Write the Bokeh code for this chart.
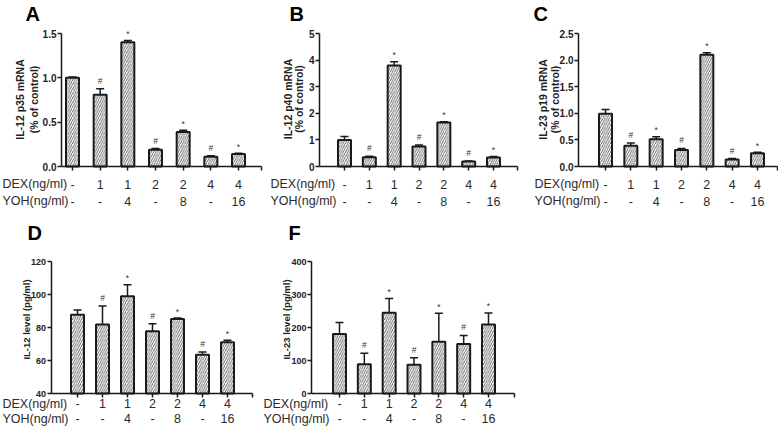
import math
from bokeh.plotting import figure
from bokeh.models import (Range1d, FixedTicker, NumeralTickFormatter, Whisker, TeeHead,
                          ColumnDataSource)
from bokeh.layouts import row, column
from bokeh.embed import file_html
from bokeh.resources import INLINE
from bokeh.core.properties import value

# ---------------- data ----------------
groups = [1, 2, 3, 4, 5, 6, 7]
dex_labels = ["-", "1", "1", "2", "2", "4", "4"]
yoh_labels = ["-", "-", "4", "-", "8", "-", "16"]
sig_marks = ["", "#", "*", "#", "*", "#", "*"]

a_mean = [1.00, 0.81, 1.40, 0.19, 0.39, 0.11, 0.14]
a_err = [0.01, 0.066, 0.02, 0.012, 0.02, 0.01, 0.01]
b_mean = [1.00, 0.35, 3.80, 0.75, 1.65, 0.19, 0.34]
b_err = [0.13, 0.04, 0.14, 0.06, 0.03, 0.02, 0.04]
c_mean = [0.99, 0.39, 0.51, 0.31, 2.10, 0.13, 0.25]
c_err = [0.08, 0.05, 0.05, 0.03, 0.04, 0.02, 0.02]
d_mean = [87.8, 81.8, 98.9, 77.8, 85.2, 63.5, 71.0]
d_err = [2.8, 11.3, 7.0, 4.5, 0.5, 1.7, 1.3]
f_mean = [180, 89, 245, 87, 157, 150, 209]
f_err = [35, 33, 43, 21, 86, 26, 35]

a_ticks = [0, 0.5, 1.0, 1.5]
b_ticks = [0, 1, 2, 3, 4, 5]
c_ticks = [0, 0.5, 1.0, 1.5, 2.0, 2.5]
d_ticks = [40, 60, 80, 100, 120]
f_ticks = [0, 100, 200, 300, 400]

a_title = ["IL-12 p35 mRNA", "(% of control)"]
b_title = ["IL-12 p40 mRNA", "(% of control)"]
c_title = ["IL-23 p19 mRNA", "(% of control)"]
d_title = ["IL-12 level (pg/ml)"]
f_title = ["IL-23 level (pg/ml)"]

row_names = ["DEX(ng/ml)", "YOH(ng/ml)"]

# ---------------- layout geometry (pixels) ----------------
FONT = "Liberation Sans"
INK = "#1a1a1a"
TXT = "#2b2b2b"

ROWS = {
    0: dict(ctop=0, cbot=212, ftop=33, fbot=166, dex_y=183.5, yoh_y=200.5, letter_y=2.5,
            tick_fs="10px", title_fs="10.5px"),
    1: dict(ctop=212, cbot=427, ftop=261, fbot=393, dex_y=403, yoh_y=418, letter_y=221.5,
            tick_fs="9px", title_fs="9.5px"),
}


def make_panel(letter, mean, err, ticks, fmt, titles, rowi, cl, cr, fl, fr, c1, c7,
               title_x, title_y, name_x, letter_x):
    R = ROWS[rowi]
    width = cr - cl
    height = R["cbot"] - R["ctop"]

    sp = (c7 - c1) / 6.0              # px per category
    ax0 = 1 - (c1 - fl) / sp          # axis start (data)
    ax1 = 1 + (fr - c1) / sp          # axis end (data)
    xr0 = ax0 - (fl - cl) / sp
    xr1 = xr0 + width / sp
    bw = 13.0 / sp

    ymin, ymax = ticks[0], ticks[-1]
    k = (R["fbot"] - R["ftop"]) / (ymax - ymin)  # px per y unit
    yr0 = ymin - (R["cbot"] - R["fbot"]) / k
    yr1 = ymax + (R["ftop"] - R["ctop"]) / k

    def px2x(xp):
        return xr0 + (xp - cl) / sp

    def py2y(yp):
        return ymin + (R["fbot"] - yp) / k

    p = figure(width=width, height=height, output_backend="svg", toolbar_location=None,
               x_range=Range1d(xr0, xr1), y_range=Range1d(yr0, yr1), min_border=0)
    p.outline_line_color = None
    p.xgrid.visible = False
    p.ygrid.visible = False
    p.background_fill_color = "white"

    p.vbar(x=groups, top=mean, bottom=ymin, width=bw, fill_color="white",
           line_color=INK, line_width=2, hatch_pattern="/", hatch_scale=4.5,
           hatch_weight=0.9, hatch_color="#555555")

    upper = [m + e for m, e in zip(mean, err)]
    lower = [m - e for m, e in zip(mean, err)]
    src = ColumnDataSource(dict(x=groups, upper=upper, lower=lower))
    w = Whisker(base="x", upper="upper", lower="lower", source=src,
                line_color=INK, line_width=1.5,
                upper_head=TeeHead(size=8, line_width=1.5, line_color=INK),
                lower_head=TeeHead(size=8, line_width=1.5, line_color=INK))
    p.add_layout(w)

    # significance marks
    sy = [u + (3.0 if s == "#" else 1.5) / k for u, s in zip(upper, sig_marks)]
    p.text(x=groups, y=sy, text=sig_marks, text_align="center", text_baseline="bottom",
           text_font=value(FONT), text_font_size="8.5px", text_color="#333333")

    # axes at fixed locations, bounded like the original
    p.xaxis.fixed_location = ymin
    p.yaxis.fixed_location = ax0
    p.xaxis.bounds = (ax0, ax1)
    p.yaxis.bounds = (ymin, ymax)
    for ax in (p.xaxis[0], p.yaxis[0]):
        ax.axis_line_color = INK
        ax.axis_line_width = 1.5
        ax.major_tick_line_color = INK
        ax.major_tick_line_width = 1.5
        ax.major_tick_out = 4
        ax.major_tick_in = 0
        ax.minor_tick_line_color = None
    p.xaxis.ticker = FixedTicker(ticks=groups + [ax1 - 1e-6])
    p.xaxis.major_label_text_font_size = "0px"
    p.xaxis.major_label_text_color = None
    p.yaxis.ticker = FixedTicker(ticks=ticks)
    if fmt:
        p.yaxis.formatter = NumeralTickFormatter(format=fmt)
    p.yaxis.major_label_text_font = FONT
    p.yaxis.major_label_text_font_size = R["tick_fs"]
    p.yaxis.major_label_text_font_style = "bold"
    p.yaxis.major_label_text_color = "#222222"
    p.yaxis.major_label_standoff = 1

    # category rows
    dy = py2y(R["dex_y"])
    yy = py2y(R["yoh_y"])
    p.text(x=groups, y=[dy] * 7, text=dex_labels, text_align="center", text_baseline="middle",
           text_font=value(FONT), text_font_size="12.5px", text_color=TXT)
    p.text(x=groups, y=[yy] * 7, text=yoh_labels, text_align="center", text_baseline="middle",
           text_font=value(FONT), text_font_size="12.5px", text_color=TXT)
    p.text(x=[px2x(name_x)] * 2, y=[dy, yy], text=row_names, text_align="left",
           text_baseline="middle", text_font=value(FONT), text_font_size="12.5px",
           text_color=TXT)

    # y-axis title lines (rotated)
    p.text(x=[px2x(tx) for tx in title_x], y=[py2y(title_y)] * len(titles), text=titles,
           angle=math.pi / 2, text_align="center", text_baseline="middle",
           text_font=value(FONT), text_font_size=R["title_fs"], text_font_style="bold",
           text_color="#222222")

    # panel letter
    p.text(x=[px2x(letter_x)], y=[py2y(R["letter_y"])], text=[letter], text_align="left",
           text_baseline="top", text_font=value(FONT), text_font_size="20px",
           text_font_style="bold", text_color="black")
    return p


pA = make_panel("A", a_mean, a_err, a_ticks, "0.0", a_title, 0, 0, 264, 61, 261, 72, 238,
                (19.5, 33), 99, 2, 25)
pB = make_panel("B", b_mean, b_err, b_ticks, None, b_title, 0, 264, 520, 319, 517, 344, 493,
                (287, 298.5), 98.5, 270, 289)
pC = make_panel("C", c_mean, c_err, c_ticks, "0.0", c_title, 0, 520, 778, 578, 777, 605, 757,
                (542.5, 554), 99, 534, 533)
pD = make_panel("D", d_mean, d_err, d_ticks, None, d_title, 1, 0, 258, 50.5, 252, 77, 227,
                (26,), 319, 2, 27)
pF = make_panel("F", f_mean, f_err, f_ticks, None, f_title, 1, 258, 530, 311, 514, 339, 488,
                (286,), 319, 263, 288)

layout = column(row(pA, pB, pC, spacing=0), row(pD, pF, spacing=0), spacing=0)

open("out.html", "w").write(file_html(layout, INLINE))
